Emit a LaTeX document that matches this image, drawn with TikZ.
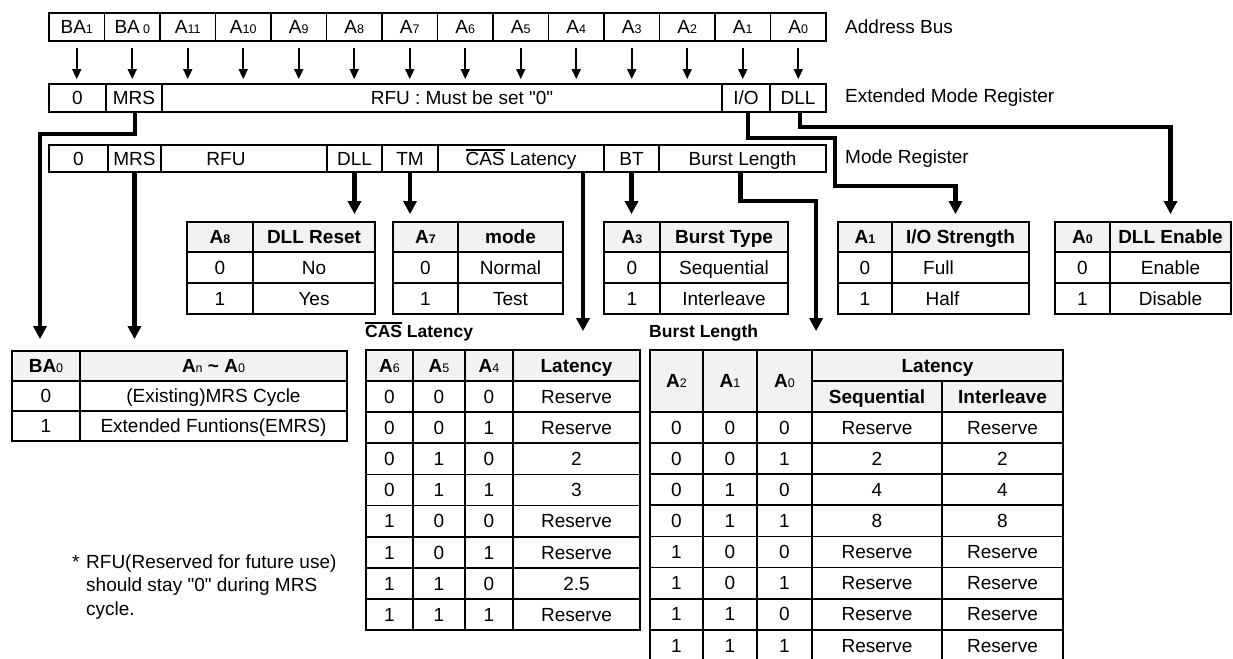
\documentclass[tikz,border=0pt]{standalone}
\usepackage{fontspec}
\setmainfont{Liberation Sans}[Ligatures=TeXOff]
\usetikzlibrary{arrows.meta}
\newcommand\sbs[1]{{\fontsize{12.5}{12.5}\selectfont #1}}
\newcommand\dq{\symbol{34}}
\newcommand\ovl[1]{\setbox0\hbox{#1}\rlap{\rule[\dimexpr\ht0+1.5pt\relax]{\wd0}{1.3pt}}\box0\relax}
\newcommand\tcell[7][]{\node[cellst,minimum width={(#5)-(#3)},minimum height={(#6)-(#4)},#1] (#2) at ({((#3)+(#5))/2},{((#4)+(#6))/2}) {#7};}
\newcommand\smalltab[8]{%
 \tcell[hdr]{#1h0}{#2}{222}{#3}{252}{#5}
 \tcell[hdr]{#1h1}{#3}{222}{#4}{252}{#6}
 \tcell{#1a0}{#2}{252}{#3}{283}{0}
 \tcell{#1a1}{#3}{252}{#4}{283}{#7}
 \tcell{#1b0}{#2}{283}{#3}{314}{1}
 \tcell{#1b1}{#3}{283}{#4}{314}{#8}}
\begin{document}
\begin{tikzpicture}[x=1pt,y=-1pt,
 cellst/.style={draw,line width=1.8pt,inner sep=0pt,text height=17pt,text depth=3.4pt,font=\fontsize{19}{22}\selectfont},
 hdr/.style={fill=black!5},
 lbl/.style={inner sep=0pt,font=\fontsize{19}{22}\selectfont},
 ttl/.style={inner sep=0pt,text height=16pt,text depth=3.4pt,font=\fontsize{17.5}{21}\selectfont\bfseries},
 thinarr/.style={line width=1.6pt,-{Triangle[width=9pt,length=10pt]}},
 conn/.style={line width=4.5pt,-{Triangle[width=13pt,length=13pt]}}]
\useasboundingbox (0,0) rectangle (1233,658);

% Extended mode register
\tcell{e0}{49}{84}{106}{112}{0}
\tcell{e1}{106}{84}{162}{112}{MRS}
\tcell{e2}{162}{84}{722}{112}{\hspace*{40pt}RFU : Must be set \dq0\dq}
\tcell{e3}{722}{84}{770}{112}{I/O}
\tcell{e4}{770}{84}{826}{112}{DLL}

% Address bus
\foreach \t [count=\i from 0] in {BA\sbs{1},BA\,\sbs{0},A\sbs{11},A\sbs{10},A\sbs{9},A\sbs{8},A\sbs{7},A\sbs{6},A\sbs{5},A\sbs{4},A\sbs{3},A\sbs{2},A\sbs{1},A\sbs{0}}{
 \pgfmathsetmacro\xa{49+55.5*\i}
 \pgfmathsetmacro\xb{49+55.5*(\i+1)}
 \tcell{ab\i}{\xa}{13}{\xb}{41}{\t}
 \draw[thinarr, shorten <=6pt, shorten >=4pt] (ab\i.south) -- (ab\i.south |- e0.north);
}

% Mode register
\tcell{m0}{49}{145}{108}{172}{0}
\tcell{m1}{108}{145}{161}{172}{MRS}
\tcell{m2}{161}{145}{327}{172}{RFU\hspace*{36pt}}
\tcell{m3}{327}{145}{382}{172}{DLL}
\tcell{m4}{382}{145}{438}{172}{TM}
\tcell{m5}{438}{145}{604}{172}{\ovl{CAS} Latency}
\tcell{m6}{604}{145}{659}{172}{BT}
\tcell{m7}{659}{145}{826}{172}{Burst Length}

\node[lbl,anchor=west] (lab1) at (845,27) {Address Bus};
\node[lbl,anchor=west] (lab2) at (845,98) {Extended Mode Register};
\node[lbl,anchor=west] (lab3) at (845,158.5) {Mode Register};

% small tables
\smalltab{t8}{187}{253}{375}{\textbf{A}\sbs{\textbf{8}}}{\textbf{DLL Reset}}{No}{Yes}
\smalltab{t7}{393}{458}{563}{\textbf{A}\sbs{\textbf{7}}}{\textbf{mode}}{Normal}{Test}
\smalltab{t3}{604}{660}{788}{\textbf{A}\sbs{\textbf{3}}}{\textbf{Burst Type}}{Sequential}{Interleave}
\smalltab{t1}{838}{892}{1029}{\textbf{A}\sbs{\textbf{1}}}{\textbf{I/O Strength}}{Full\hspace*{44pt}}{Half\hspace*{36pt}}
\smalltab{t0}{1055}{1110}{1231}{\textbf{A}\sbs{\textbf{0}}}{\textbf{DLL Enable}}{Enable}{Disable}

% BA0 table
\tcell[hdr]{bh0}{12}{351}{80}{381}{\textbf{BA}\sbs{0}}
\tcell[hdr]{bh1}{80}{351}{347}{381}{\textbf{A}\sbs{n} \textbf{\textasciitilde} \textbf{A}\sbs{0}}
\tcell{b10}{12}{381}{80}{411}{0}
\tcell{b11}{80}{381}{347}{411}{(Existing)MRS Cycle}
\tcell{b20}{12}{411}{80}{441}{1}
\tcell{b21}{80}{411}{347}{441}{Extended Funtions(EMRS)}

% CAS latency table
\node[ttl,anchor=west] (castitle) at (365,331) {\ovl{CAS} Latency};
\tcell[hdr]{ch0}{366}{350}{413}{381.1}{\textbf{A}\sbs{6}}
\tcell[hdr]{ch1}{413}{350}{465}{381.1}{\textbf{A}\sbs{5}}
\tcell[hdr]{ch2}{465}{350}{513}{381.1}{\textbf{A}\sbs{4}}
\tcell[hdr]{ch3}{513}{350}{640}{381.1}{\textbf{Latency}}
\foreach \a/\b/\c/\d [count=\k] in {0/0/0/Reserve,0/0/1/Reserve,0/1/0/2,0/1/1/3,1/0/0/Reserve,1/0/1/Reserve,1/1/0/2.5,1/1/1/Reserve}{
 \pgfmathsetmacro\ya{350+31.11*\k}
 \pgfmathsetmacro\yb{350+31.11*(\k+1)}
 \tcell{ca\k}{366}{\ya}{413}{\yb}{\a}
 \tcell{cb\k}{413}{\ya}{465}{\yb}{\b}
 \tcell{cc\k}{465}{\ya}{513}{\yb}{\c}
 \tcell{cd\k}{513}{\ya}{640}{\yb}{\d}
}

% Burst length table
\node[ttl,anchor=west] (bltitle) at (649,331) {Burst Length};
\tcell[hdr]{lh0}{650}{350}{703}{412}{\textbf{A}\sbs{2}}
\tcell[hdr]{lh1}{703}{350}{757}{412}{\textbf{A}\sbs{1}}
\tcell[hdr]{lh2}{757}{350}{812}{412}{\textbf{A}\sbs{0}}
\tcell[hdr]{lh3}{812}{350}{1063}{381}{\textbf{Latency}}
\tcell[hdr]{lh4}{812}{381}{942}{412}{\textbf{Sequential}}
\tcell[hdr]{lh5}{942}{381}{1063}{412}{\textbf{Interleave}}
\foreach \a/\b/\c/\d/\e [count=\k] in {0/0/0/Reserve/Reserve,0/0/1/2/2,0/1/0/4/4,0/1/1/8/8,1/0/0/Reserve/Reserve,1/0/1/Reserve/Reserve,1/1/0/Reserve/Reserve,1/1/1/Reserve/Reserve}{
 \pgfmathsetmacro\ya{412+31.1*(\k-1)}
 \pgfmathsetmacro\yb{412+31.1*\k}
 \tcell{la\k}{650}{\ya}{703}{\yb}{\a}
 \tcell{lb\k}{703}{\ya}{757}{\yb}{\b}
 \tcell{lc\k}{757}{\ya}{812}{\yb}{\c}
 \tcell{ld\k}{812}{\ya}{942}{\yb}{\d}
 \tcell{le\k}{942}{\ya}{1063}{\yb}{\e}
}

% note
\node[lbl,anchor=base west] (n0) at (72,568) {*};
\node[lbl,anchor=base west] (n1) at (86,568) {RFU(Reserved for future use)};
\node[lbl,anchor=base west] (n2) at (86,591.5) {should stay \dq0\dq{} during MRS};
\node[lbl,anchor=base west] (n3) at (86,615) {cycle.};

% thick connectors
\draw[conn, shorten >=11pt] ([xshift=1pt]e1.south) -- ++(0,21) -| ([xshift=-6pt]bh0.north);
\draw[conn, shorten >=11pt] (m1.south) -- (m1.south |- bh1.north);
\draw[conn, shorten >=7pt] (m3.south) -- (m3.south |- t8h1.north);
\draw[conn, shorten >=7pt] (m4.south) -- (m4.south |- t7h0.north);
\draw[conn, shorten >=18pt] ([xshift=62pt]m5.south) -- ([xshift=62pt]m5.south |- ch3.north);
\draw[conn, shorten >=7pt] (m6.south) -- (m6.south |- t3h0.north);
\draw[conn, shorten >=18pt] ([xshift=-2pt]m7.south) -- ++(0,28) -| ([xshift=5pt]lh3.north west);
\draw[conn, shorten >=7pt] ([xshift=2pt]e3.south) -- ++(0,25) -| ++(87,48) -| ([xshift=-5pt]t1h1.north);
\draw[conn, shorten >=7pt] ([xshift=2pt]e4.south) -- ++(0,14) -| (t0h1.north);
\end{tikzpicture}
\end{document}
